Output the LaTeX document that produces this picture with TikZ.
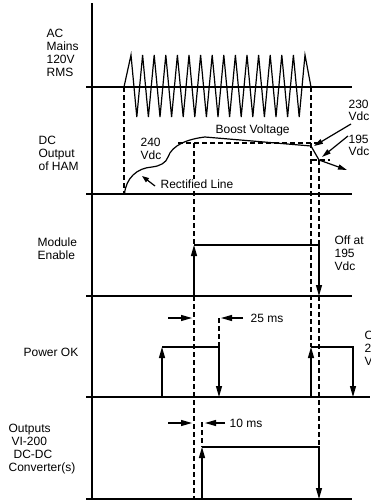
\documentclass[tikz,border=0pt]{standalone}
\usepackage{fontspec}
\setmainfont{Liberation Sans}
\usepackage{tikz}
\usetikzlibrary{arrows.meta,calc}

\begin{document}
\begin{tikzpicture}[x=1pt,y=-1pt,line width=1.2pt,font=\fontsize{12}{13}\selectfont]
        \tikzstyle{signame} = [anchor=west,inner sep=0pt,align=left]
        \tikzstyle{timing} = [line width=1.2pt,dash pattern=on 5pt off 3pt]
        \tikzstyle{pulse} = [-{Triangle[length=11pt,width=6pt]}]
        \tikzstyle{pointer} = [-{Triangle[length=9pt,width=5pt]}]
        \useasboundingbox (0,0) rectangle (370,501);
        %
        % Time axis and base lines.
        \coordinate (top) at (92,3);
        \coordinate (bot) at (92,499);
        \coordinate (b1w) at (86,87);  \coordinate (b1e) at (352,87);
        \coordinate (b2w) at (86,194); \coordinate (b2e) at (352,194);
        \coordinate (b3w) at (86,296); \coordinate (b3e) at (352,296);
        \coordinate (b4w) at (86,397); \coordinate (b4e) at (370,397);
        \coordinate (b5w) at (86,499); \coordinate (b5e) at (352,499);
        \draw (top) -- (bot);
        \draw (b1w) -- (b1e) (b2w) -- (b2e) (b3w) -- (b3e) (b4w) -- (b4e) (b5w) -- (b5e);
        %
        % Signal names.
        \node[signame] (ac) at (46,53) {AC\\Mains\\120V\\RMS};
        \node[signame] (dc) at (38,153) {DC\\Output\\of HAM};
        \node[signame] (me) at (37,249) {Module\\Enable};
        \node[signame] (pok) at (23,352) {Power OK};
        \node[signame] (out) at (8,449) {Outputs\\\hspace*{3pt}VI-200\\\hspace*{5pt}DC-DC\\Converter(s)};
        %
        % First row: AC mains.
        \coordinate (ac0) at (124,87);
        \coordinate (ac1) at (311,87);
        \draw[line join=miter] (ac0) -- (131,55) \foreach \i in {1,...,15} {-- ++(5.8,62) -- ++(5.8,-62)} -- (ac1);
        %
        % Time markers.
        \draw[timing] (ac0) -- (124,194);
        \draw[timing] (ac1) -- (311,347);
        \draw[timing] (319,160) -- (319,245) (319,296) -- (319,447);
        \draw[timing] (194,143) -- (194,245) (194,296) -- (194,499);
        %
        % Second row: DC output of HAM.
        \coordinate (dc0) at (124.5,194);
        \coordinate (dcpk) at (205,137);
        \coordinate (dc230) at (311,146);
        \coordinate (dc195) at (319,160);
        \coordinate (dcend) at (347,170);
        \draw (dc0) .. controls (126,178) and (137,168) .. (152,167)
              .. controls (160,166) and (166,163) .. (168,157)
              .. controls (172,145) and (188,139) .. (dcpk) -- (dc230) -- (dc195);
        \draw[pointer] (dc195) -- (dcend);
        \coordinate (lv240w) at (178,143); \coordinate (lv240e) at (322,143);
        \coordinate (lv195w) at (312,160); \coordinate (lv195e) at (330,160);
        \draw[timing] (lv240w) -- (lv240e) (lv195w) -- (lv195e);
        \node[signame] (v240) at (140,149) {240\\Vdc};
        \node[signame] (boost) at (215,130) {Boost Voltage};
        \node[signame] (v230) at (348,110.5) {230\\[-1pt]Vdc};
        \node[signame] (v195) at (348,145.5) {195\\[-1pt]Vdc};
        \node[signame,fill=white,inner ysep=1pt] (rect) at (160,184) {Rectified Line};
        \coordinate (p230) at (351,124); \coordinate (p195) at (348,136);
        \coordinate (prect) at (155,186); \coordinate (trect) at (142,176);
        \draw[pointer] (p230) -- (314,146);
        \draw[pointer] (p195) -- (322,157);
        \draw[-{Triangle[length=7pt,width=5pt]}] (prect) -- (trect);
        %
        % Third row: module enable.
        \coordinate (me0) at (194,296); \coordinate (me1) at (194,245);
        \coordinate (me2) at (319,245); \coordinate (me3) at (319,296);
        \draw[pulse] (me0) -- (me1);
        \draw[pulse] (me1) -- (me2) -- (me3);
        \node[signame] (off195) at (334,253) {Off at\\195\\Vdc};
        %
        % Fourth row: power OK.
        \coordinate (pa0) at (162,397); \coordinate (pa1) at (162,347);
        \coordinate (pa2) at (219,347); \coordinate (pa3) at (219,397);
        \coordinate (pb0) at (311,397); \coordinate (pb1) at (311,347);
        \coordinate (pb2) at (353,347); \coordinate (pb3) at (353,397);
        \draw[pulse] (pa0) -- (pa1);
        \draw[pulse] (pa1) -- (pa2) -- (pa3);
        \draw[pulse] (pb0) -- (pb1);
        \draw[pulse] (pb1) -- (pb2) -- (pb3);
        \node[signame] (off230) at (364,348) {Off at\\230\\Vdc};
        \coordinate (t25w) at (219,318);
        \draw[timing] (t25w) -- (pa2);
        \draw[pulse] (168,318) -- (192,318);
        \draw[pulse] (243,318) -- (221,318);
        \node[signame] (ms25) at (250,318) {25 ms};
        %
        % Fifth row: converter outputs.
        \coordinate (oc0) at (202,499); \coordinate (oc1) at (202,447);
        \coordinate (oc2) at (319,447); \coordinate (oc3) at (319,499);
        \draw[pulse] (oc0) -- (oc1);
        \draw[pulse] (oc1) -- (oc2) -- (oc3);
        \coordinate (t10w) at (202,422);
        \draw[timing] (t10w) -- (oc1);
        \draw[pulse] (168,423) -- (192,423);
        \draw[pulse] (225,423) -- (205,423);
        \node[signame] (ms10) at (229,423) {10 ms};
\end{tikzpicture}
\end{document}
